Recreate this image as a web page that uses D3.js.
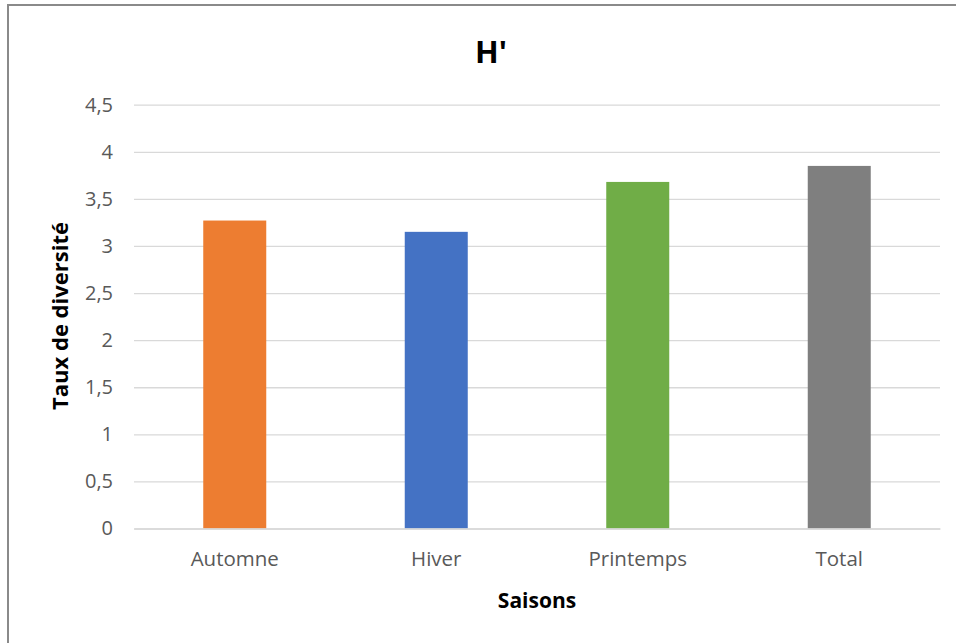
<!DOCTYPE html>
<html><head><meta charset="utf-8">
<script src="https://cdn.jsdelivr.net/npm/d3@7"></script>
<style>html,body{margin:0;padding:0;background:#fff;}svg{display:block;}</style>
</head><body>
<svg id="chart" width="956" height="643"></svg>
<script>
const categories = ["Automne", "Hiver", "Printemps", "Total"];
const values = [3.27, 3.15, 3.68, 3.85];
const colors = ["#ED7D31", "#4472C4", "#70AD47", "#7F7F7F"];
const yTicks = [0, 0.5, 1, 1.5, 2, 2.5, 3, 3.5, 4, 4.5];
const title = "H'";
const xTitle = "Saisons";
const yTitle = "Taux de diversité";

const svg = d3.select("#chart");
const W = 956, H = 643;
svg.append("rect").attr("width", W).attr("height", H).attr("fill", "#fff");
svg.append("line").attr("x1", 7).attr("x2", W).attr("y1", 5).attr("y2", 5).attr("stroke", "#8a8a8a").attr("stroke-width", 2);
svg.append("line").attr("x1", 8).attr("x2", 8).attr("y1", 4).attr("y2", H).attr("stroke", "#8a8a8a").attr("stroke-width", 2);

const m = {left: 134, right: 940, top: 104.7, bottom: 528.5};
const x = d3.scaleBand().domain(categories).range([m.left, m.right]).padding(0);
const y = d3.scaleLinear().domain([0, 4.5]).range([m.bottom, m.top]);
const fmt = d => String(d).replace(".", ",");
const font = "'Open Sans', 'Noto Sans', sans-serif";

const yAxis = d3.axisLeft(y).tickValues(yTicks).tickFormat(fmt).tickSize(-(m.right - m.left)).tickPadding(21);
const gy = svg.append("g").attr("transform", `translate(${m.left},0)`).call(yAxis);
gy.select(".domain").remove();
gy.selectAll(".tick line").attr("stroke", "#d9d9d9").attr("stroke-width", 1.3);
gy.selectAll(".tick text").attr("fill", "#595959").attr("font-size", 20).attr("font-family", font);

const bw = 63;
svg.append("g").selectAll("rect").data(categories).join("rect")
  .attr("x", (d) => x(d) + x.bandwidth() / 2 - bw / 2)
  .attr("width", bw)
  .attr("y", (d, i) => y(values[i]))
  .attr("height", (d, i) => y(0) - y(values[i]))
  .attr("fill", (d, i) => colors[i]);

const xAxis = d3.axisBottom(x).tickSize(0).tickPadding(23);
const gx = svg.append("g").attr("transform", `translate(0,${m.bottom})`).call(xAxis);
gx.select(".domain").attr("stroke", "#d9d9d9").attr("stroke-width", 1.3);
gx.selectAll(".tick text").attr("fill", "#595959").attr("font-size", 20.5).attr("font-family", font);

svg.append("text").attr("x", 491).attr("y", 63).attr("text-anchor", "middle")
  .attr("font-family", font).attr("font-size", 31).attr("font-weight", "bold").attr("fill", "#000").text(title);
svg.append("text").attr("x", 537).attr("y", 608).attr("text-anchor", "middle")
  .attr("font-family", font).attr("font-size", 21).attr("font-weight", "bold").attr("fill", "#000").text(xTitle);
svg.append("text").attr("transform", "translate(68,316) rotate(-90)").attr("text-anchor", "middle")
  .attr("font-family", font).attr("font-size", 22).attr("font-weight", "bold").attr("fill", "#000").text(yTitle);
</script>
</body></html>
